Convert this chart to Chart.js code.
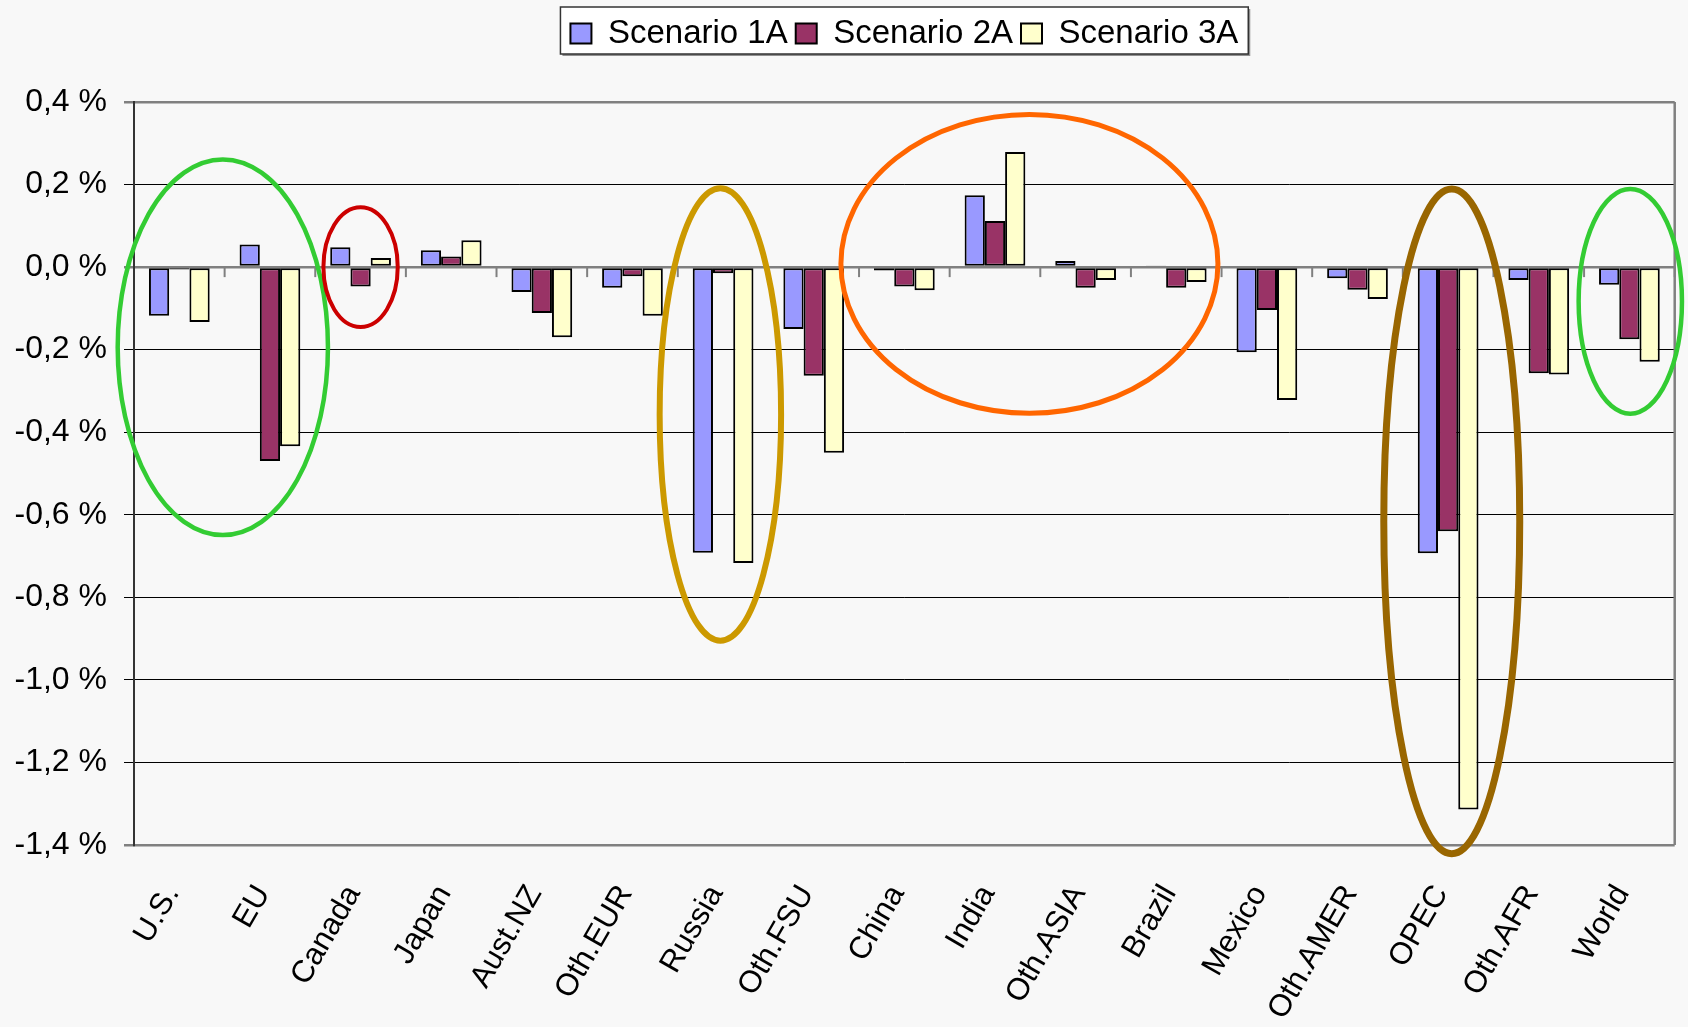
<!DOCTYPE html>
<html>
<head>
<meta charset="utf-8">
<script src="https://cdn.jsdelivr.net/npm/chart.js@4/dist/chart.umd.min.js"></script>
<style>
  body { margin: 0; background: #f8f8f8; }
  #wrap { width: 1688px; height: 1027px; }
</style>
</head>
<body>
<div id="wrap"><canvas id="chart"></canvas></div>
<script>
//regions on the x axis
var categories = ['U.S.', 'EU', 'Canada', 'Japan', 'Aust.NZ', 'Oth.EUR', 'Russia', 'Oth.FSU',
  'China', 'India', 'Oth.ASIA', 'Brazil', 'Mexico', 'Oth.AMER', 'OPEC', 'Oth.AFR', 'World'];

//change in percent
var scenario1A = [-0.118, 0.055, 0.048, 0.041, -0.060, -0.050, -0.692, -0.150,
  -0.008, 0.174, 0.015, 0.004, -0.206, -0.027, -0.693, -0.031, -0.043];
var scenario2A = [-0.006, -0.470, -0.047, 0.026, -0.111, -0.022, -0.015, -0.263,
  -0.047, 0.112, -0.050, -0.050, -0.104, -0.055, -0.640, -0.257, -0.175];
var scenario3A = [-0.133, -0.434, 0.022, 0.065, -0.170, -0.118, -0.717, -0.450,
  -0.056, 0.279, -0.031, -0.036, -0.322, -0.077, -1.314, -0.260, -0.229];

var seriesNames = ['Scenario 1A', 'Scenario 2A', 'Scenario 3A'];
var seriesColors = ['#9999ff', '#993366', '#ffffcc'];

//y axis ticks
var yMin = -1.4, yMax = 0.4, yStep = 0.2;

//highlight rings: centre (category index, value), half width in categories, half height in %
var ringCenterCat = [0.48, 2.0, 5.97, 9.38, 14.04, 16.01];
var ringCenterVal = [-0.194, 0.0, -0.357, 0.008, -0.616, -0.083];
var ringHalfCat = [1.16, 0.41, 0.67, 2.08, 0.75, 0.57];
var ringHalfVal = [0.455, 0.145, 0.548, 0.362, 0.805, 0.272];
var ringColors = ['#33cc33', '#cc0000', '#cc9900', '#ff6600', '#996600', '#33cc33'];
var ringWidths = [4.5, 4, 6, 5, 7, 4.5];

var FONT = '"Liberation Sans", Arial, sans-serif';

function fmtPercent(v){
  if (Math.abs(v) < 1e-9) v = 0;
  return v.toFixed(1).replace('.', ',') + ' %';
}

//plugin: background, legend frame, right border, category ticks on the zero line, rings
var decorations = {
  id: 'decorations',
  afterInit: function(chart){
    //leave room between the legend and the plot
    var lg = chart.legend;
    var fit = lg.fit;
    lg.fit = function(){
      fit.call(this);
      this.height += 42;
    };
  },
  beforeDraw: function(chart){
    var ctx = chart.ctx;
    ctx.save();
    ctx.fillStyle = '#f8f8f8';
    ctx.fillRect(0, 0, chart.width, chart.height);

    var lg = chart.legend;
    var pad = lg.options.labels.padding;
    var lw = lg.lineWidths[0];
    var x0 = (lg.left + pad + lg.right - lw) / 2 - 10;
    var x1 = x0 + 10 + lw - pad + 10;
    ctx.fillStyle = '#909090';
    ctx.fillRect(x0 + 2, 9, x1 - x0, 47);
    ctx.fillStyle = '#ffffff';
    ctx.fillRect(x0, 7, x1 - x0, 47);
    ctx.strokeStyle = '#333333';
    ctx.lineWidth = 1.5;
    ctx.strokeRect(x0, 7, x1 - x0, 47);
    ctx.restore();
  },
  beforeDatasetsDraw: function(chart){
    var ctx = chart.ctx, area = chart.chartArea;
    var xs = chart.scales.x, ys = chart.scales.y;
    var n = categories.length;
    var zeroY = ys.getPixelForValue(0);
    ctx.save();
    ctx.strokeStyle = '#808080';
    ctx.lineWidth = 2.5;
    ctx.beginPath();
    ctx.moveTo(area.right, area.top);
    ctx.lineTo(area.right, area.bottom);
    ctx.stroke();
    ctx.lineWidth = 2;
    for (var k = 1; k <= n; k++) {
      var x = xs.getPixelForDecimal(k / n);
      ctx.beginPath();
      ctx.moveTo(x, zeroY);
      ctx.lineTo(x, zeroY + 10);
      ctx.stroke();
    }
    ctx.restore();
  },
  afterDraw: function(chart){
    var ctx = chart.ctx;
    var xs = chart.scales.x, ys = chart.scales.y;
    var n = categories.length;
    var catW = xs.width / n;
    ctx.save();
    ringCenterCat.forEach(function(c, i){
      var cx = xs.getPixelForDecimal((c + 0.5) / n);
      var cy = ys.getPixelForValue(ringCenterVal[i]);
      var ry = Math.abs(ys.getPixelForValue(ringCenterVal[i] + ringHalfVal[i]) - cy);
      ctx.strokeStyle = ringColors[i];
      ctx.lineWidth = ringWidths[i];
      ctx.beginPath();
      ctx.ellipse(cx, cy, ringHalfCat[i] * catW, ry, 0, 0, Math.PI * 2);
      ctx.stroke();
    });
    ctx.restore();
  }
};

var values = [scenario1A, scenario2A, scenario3A];
var datasets = seriesNames.map(function(name, i){
  return {
    label: name,
    data: values[i],
    backgroundColor: seriesColors[i],
    borderColor: '#000000',
    borderWidth: 2,
    borderSkipped: false,
    categoryPercentage: 0.67,
    barPercentage: 1.0
  };
});

function isFrame(v){
  return Math.abs(v) < 1e-9 || Math.abs(v - yMax) < 1e-9 || Math.abs(v - yMin) < 1e-9;
}

var chart = new Chart(document.getElementById('chart'), {
  type: 'bar',
  data: { labels: categories, datasets: datasets },
  options: {
    responsive: true,
    maintainAspectRatio: false,
    animation: false,
    layout: { padding: { top: 9, right: 10, bottom: 0, left: 0 } },
    plugins: {
      tooltip: { enabled: false },
      legend: {
        position: 'top',
        fullSize: false,
        labels: {
          font: { family: FONT, size: 33 },
          color: '#000000',
          boxWidth: 21,
          boxHeight: 20,
          padding: 8
        }
      }
    },
    scales: {
      x: {
        grid: { display: false },
        border: { display: false },
        ticks: {
          font: { family: FONT, size: 31 },
          color: '#000000',
          maxRotation: 60,
          minRotation: 60,
          autoSkip: false,
          padding: 26,
          labelOffset: -7
        },
        afterFit: function(scale){ scale.height = 182; }
      },
      y: {
        min: yMin,
        max: yMax,
        border: { display: true, color: '#333333', width: 2 },
        grid: {
          color: function(c){ return isFrame(c.tick.value) ? '#808080' : '#000000'; },
          lineWidth: function(c){ return isFrame(c.tick.value) ? 2.5 : 1; },
          tickLength: 10
        },
        ticks: {
          stepSize: yStep,
          font: { family: FONT, size: 32 },
          color: '#000000',
          padding: 17,
          callback: function(v){ return fmtPercent(v); }
        },
        afterFit: function(scale){ scale.width = 134; }
      }
    }
  },
  plugins: [decorations]
});
</script>
</body>
</html>
